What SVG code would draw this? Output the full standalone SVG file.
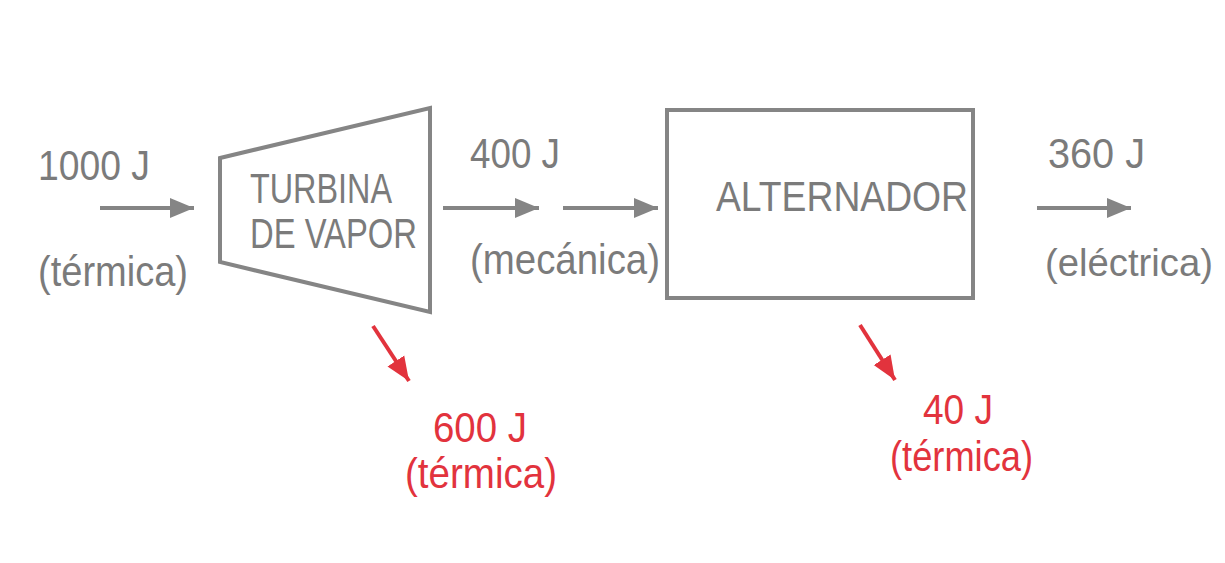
<svg xmlns="http://www.w3.org/2000/svg" width="1225" height="563" viewBox="0 0 1225 563">
  <style>
    .lbl { font-family: "Liberation Sans", Arial, sans-serif; font-size: 42px; fill: #7b7b7b; }
    .red { font-family: "Liberation Sans", Arial, sans-serif; font-size: 42px; fill: #e2333d; }
    .box { fill: none; stroke: #858585; stroke-width: 4; }
    .flow { stroke: #858585; stroke-width: 4; fill: none; }
    .loss { stroke: #e2333d; stroke-width: 4; fill: none; }
  </style>
  <defs>
    <marker id="ah" markerUnits="userSpaceOnUse" markerWidth="26" markerHeight="22" refX="24" refY="11" orient="auto">
      <path d="M0,1 L24,11 L0,21 Z" fill="#858585"/>
    </marker>
    <marker id="ahr" markerUnits="userSpaceOnUse" markerWidth="26" markerHeight="22" refX="24" refY="11" orient="auto">
      <path d="M0,1 L24,11 L0,21 Z" fill="#e2333d"/>
    </marker>
  </defs>

  <rect width="1225" height="563" fill="#ffffff"/>

  <!-- steam turbine -->
  <g id="turbina">
    <path class="box" d="M220,158 L430,108 L430,312 L220,262 Z"/>
    <text class="lbl" x="250" y="203" textLength="142" lengthAdjust="spacingAndGlyphs">TURBINA</text>
    <text class="lbl" x="250" y="248" textLength="167" lengthAdjust="spacingAndGlyphs">DE VAPOR</text>
  </g>

  <!-- alternator -->
  <g id="alternador">
    <rect class="box" x="667" y="110" width="306" height="188"/>
    <text class="lbl" x="716" y="211" textLength="252" lengthAdjust="spacingAndGlyphs">ALTERNADOR</text>
  </g>

  <!-- energy labels -->
  <g id="entrada">
    <text class="lbl" x="38" y="180" textLength="112" lengthAdjust="spacingAndGlyphs">1000 J</text>
    <text class="lbl" x="38" y="286" textLength="150" lengthAdjust="spacingAndGlyphs">(térmica)</text>
  </g>
  <g id="mecanica">
    <text class="lbl" x="470" y="168" textLength="90" lengthAdjust="spacingAndGlyphs">400 J</text>
    <text class="lbl" x="470" y="274" textLength="190" lengthAdjust="spacingAndGlyphs">(mecánica)</text>
  </g>
  <g id="electrica">
    <text class="lbl" x="1048" y="168" textLength="97" lengthAdjust="spacingAndGlyphs">360 J</text>
    <text class="lbl" x="1045" y="276" style="font-size:39px" textLength="168" lengthAdjust="spacingAndGlyphs">(eléctrica)</text>
  </g>
  <g id="perdida-turbina">
    <text class="red" x="433" y="442" textLength="94" lengthAdjust="spacingAndGlyphs">600 J</text>
    <text class="red" x="405" y="488" textLength="152" lengthAdjust="spacingAndGlyphs">(térmica)</text>
  </g>
  <g id="perdida-alternador">
    <text class="red" x="923" y="424" textLength="70" lengthAdjust="spacingAndGlyphs">40 J</text>
    <text class="red" x="890" y="471" textLength="143" lengthAdjust="spacingAndGlyphs">(térmica)</text>
  </g>

  <!-- connectors -->
  <g id="conectores">
    <line class="flow" x1="100" y1="208" x2="194" y2="208" marker-end="url(#ah)"/>
    <line class="flow" x1="443" y1="208" x2="539" y2="208" marker-end="url(#ah)"/>
    <line class="flow" x1="563" y1="208" x2="658" y2="208" marker-end="url(#ah)"/>
    <line class="flow" x1="1037" y1="208" x2="1131" y2="208" marker-end="url(#ah)"/>
    <line class="loss" x1="373" y1="326" x2="409" y2="381" marker-end="url(#ahr)"/>
    <line class="loss" x1="860" y1="325" x2="895" y2="380" marker-end="url(#ahr)"/>
  </g>
</svg>
